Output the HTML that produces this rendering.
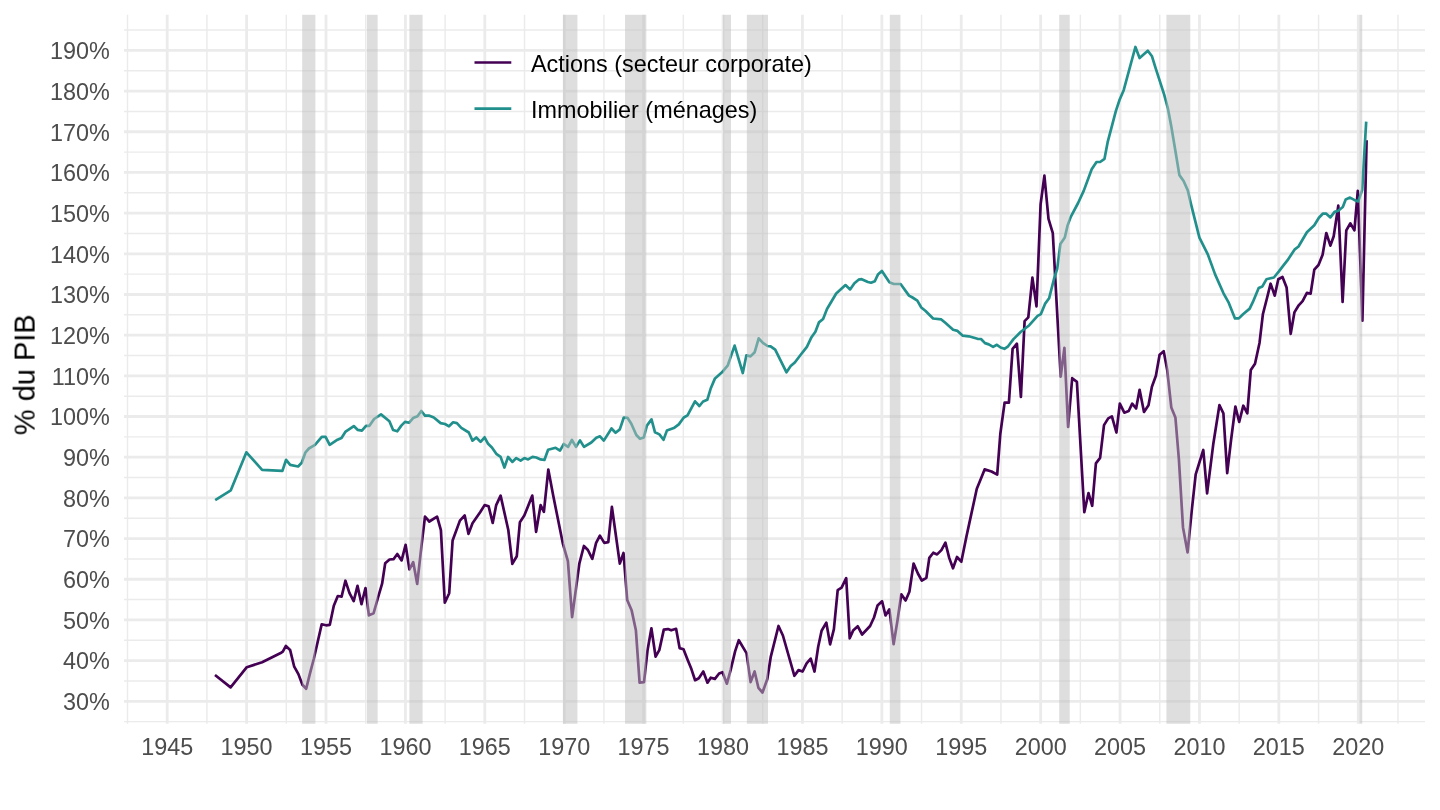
<!DOCTYPE html>
<html><head><meta charset="utf-8"><style>html,body{margin:0;padding:0;background:#fff;width:1440px;height:810px;overflow:hidden}svg{display:block}text{will-change:transform}</style></head>
<body><svg width="1440" height="810" viewBox="0 0 1440 810">
<rect width="1440" height="810" fill="#fff"/>
<path d="M124.0 721.62H1425.0M124.0 680.94H1425.0M124.0 640.26H1425.0M124.0 599.58H1425.0M124.0 558.90H1425.0M124.0 518.22H1425.0M124.0 477.54H1425.0M124.0 436.86H1425.0M124.0 396.18H1425.0M124.0 355.50H1425.0M124.0 314.82H1425.0M124.0 274.14H1425.0M124.0 233.46H1425.0M124.0 192.78H1425.0M124.0 152.10H1425.0M124.0 111.42H1425.0M124.0 70.74H1425.0M124.0 30.06H1425.0M127.50 14.8V723.75M206.91 14.8V723.75M286.31 14.8V723.75M365.72 14.8V723.75M445.12 14.8V723.75M524.52 14.8V723.75M603.93 14.8V723.75M683.34 14.8V723.75M762.74 14.8V723.75M842.14 14.8V723.75M921.55 14.8V723.75M1000.96 14.8V723.75M1080.36 14.8V723.75M1159.77 14.8V723.75M1239.17 14.8V723.75M1318.58 14.8V723.75M1397.98 14.8V723.75" stroke="#EBEBEB" stroke-width="1.45" fill="none"/>
<path d="M124.0 701.28H1425.0M124.0 660.60H1425.0M124.0 619.92H1425.0M124.0 579.24H1425.0M124.0 538.56H1425.0M124.0 497.88H1425.0M124.0 457.20H1425.0M124.0 416.52H1425.0M124.0 375.84H1425.0M124.0 335.16H1425.0M124.0 294.48H1425.0M124.0 253.80H1425.0M124.0 213.12H1425.0M124.0 172.44H1425.0M124.0 131.76H1425.0M124.0 91.08H1425.0M124.0 50.40H1425.0M167.20 14.8V723.75M246.61 14.8V723.75M326.01 14.8V723.75M405.42 14.8V723.75M484.82 14.8V723.75M564.23 14.8V723.75M643.63 14.8V723.75M723.04 14.8V723.75M802.44 14.8V723.75M881.85 14.8V723.75M961.25 14.8V723.75M1040.66 14.8V723.75M1120.06 14.8V723.75M1199.47 14.8V723.75M1278.87 14.8V723.75M1358.28 14.8V723.75" stroke="#EBEBEB" stroke-width="2.8" fill="none"/>
<path d="M215.0 675.0 L230.6 687.4 L246.8 667.2 L262.1 662.3 L280.2 653.3 L282.8 651.6 L285.9 645.9 L290.1 649.9 L294.1 666.3 L298.4 674.1 L302.4 684.8 L306.2 688.8 L309.6 674.9 L313.9 658.5 L321.7 624.3 L326.0 625.3 L329.8 624.8 L333.8 605.8 L337.8 596.0 L341.6 596.6 L345.4 580.7 L349.4 592.8 L353.7 601.1 L357.5 585.9 L361.5 604.1 L365.5 588.0 L368.9 615.3 L373.6 613.2 L377.9 598.0 L382.1 583.7 L385.2 563.3 L389.5 559.5 L393.5 559.2 L397.3 554.0 L401.6 560.4 L405.6 544.8 L409.4 569.5 L413.2 562.1 L417.2 584.0 L421.5 545.7 L425.0 516.6 L429.3 521.5 L437.1 516.6 L440.9 530.1 L444.8 602.7 L449.2 593.2 L452.6 540.5 L459.9 520.6 L464.7 515.4 L468.5 533.9 L472.5 523.2 L480.3 512.0 L484.6 505.1 L488.6 506.3 L492.7 522.9 L496.2 505.1 L500.6 495.6 L508.3 530.0 L512.3 563.8 L516.8 556.2 L519.9 522.2 L524.3 515.6 L532.3 495.6 L536.1 531.8 L540.6 505.1 L543.9 511.8 L548.3 469.6 L553.2 495.6 L562.8 543.3 L567.9 561.1 L572.1 617.1 L579.4 563.3 L583.9 546.0 L587.9 550.0 L592.3 558.9 L596.1 542.9 L599.9 535.6 L604.3 542.9 L608.3 542.2 L611.9 506.9 L616.1 537.0 L619.8 563.6 L623.5 553.0 L627.2 599.9 L631.7 610.6 L635.9 630.3 L639.6 682.7 L644.0 682.2 L647.5 650.6 L651.4 628.3 L655.6 656.7 L659.3 650.1 L663.8 629.6 L668.0 629.1 L671.2 630.3 L676.1 628.8 L679.6 648.1 L683.5 649.3 L687.7 659.9 L691.4 669.1 L695.1 680.2 L698.8 678.2 L703.3 671.5 L707.5 682.7 L710.7 677.7 L714.9 678.9 L719.1 673.5 L722.5 672.2 L726.9 683.7 L730.6 670.1 L735.1 651.4 L738.8 640.2 L746.5 653.1 L750.6 682.1 L754.6 671.5 L758.4 687.8 L762.5 692.5 L767.3 679.0 L770.7 657.2 L778.5 626.0 L782.9 635.5 L794.4 675.8 L798.5 670.1 L802.6 671.5 L806.6 663.3 L810.7 658.6 L814.5 671.5 L818.2 646.8 L821.6 630.7 L826.3 622.6 L830.1 644.3 L833.9 629.1 L837.7 590.2 L841.6 587.7 L846.2 578.1 L849.7 638.3 L853.1 630.6 L857.8 626.3 L862.1 634.5 L870.1 626.0 L874.0 617.5 L877.5 605.6 L882.1 601.3 L885.5 615.5 L889.4 609.3 L893.6 644.2 L897.6 619.8 L901.3 594.4 L905.6 600.5 L909.4 591.7 L913.6 563.5 L917.9 573.5 L921.8 580.5 L926.4 577.8 L929.3 557.9 L933.3 552.7 L937.1 554.4 L941.4 550.1 L945.4 542.7 L949.2 557.9 L953.0 568.3 L957.0 557.0 L961.3 561.7 L966.5 536.3 L970.8 516.4 L976.8 488.8 L981.2 478.0 L984.6 469.4 L991.5 471.5 L997.2 474.6 L1000.3 434.0 L1004.6 402.6 L1008.9 402.6 L1012.6 348.9 L1016.9 343.7 L1020.9 397.0 L1024.6 321.1 L1028.3 317.4 L1032.4 277.6 L1036.5 306.3 L1040.6 204.4 L1044.4 175.7 L1048.5 218.9 L1052.8 233.1 L1056.9 308.1 L1060.7 376.7 L1064.4 347.8 L1068.1 427.0 L1072.2 378.2 L1076.9 381.9 L1084.3 512.2 L1088.5 493.0 L1092.2 505.8 L1095.9 463.3 L1100.1 457.9 L1104.0 425.1 L1108.2 418.4 L1111.9 416.4 L1116.4 432.5 L1119.8 403.6 L1124.3 412.7 L1128.7 411.0 L1132.2 403.6 L1136.1 408.5 L1139.6 389.8 L1144.0 412.0 L1148.5 405.3 L1151.9 386.8 L1155.9 375.7 L1159.6 354.8 L1163.7 351.2 L1167.2 369.9 L1171.3 407.4 L1175.4 417.4 L1178.9 459.5 L1183.0 527.4 L1187.6 552.4 L1191.7 511.1 L1195.7 474.4 L1203.3 450.0 L1207.1 493.4 L1213.4 443.2 L1219.4 405.2 L1223.4 413.3 L1227.2 473.1 L1231.0 440.5 L1235.4 406.5 L1239.2 422.0 L1243.3 405.7 L1247.3 413.3 L1250.8 369.9 L1255.0 363.7 L1259.5 343.0 L1262.9 314.1 L1266.9 298.5 L1270.6 283.7 L1274.7 295.6 L1278.3 279.3 L1282.5 277.0 L1286.6 287.4 L1290.7 333.8 L1294.4 312.4 L1298.7 305.3 L1302.6 301.1 L1306.9 292.8 L1310.6 293.7 L1314.3 269.6 L1318.5 265.0 L1322.6 254.8 L1326.3 233.0 L1330.4 245.6 L1333.7 236.3 L1338.3 205.7 L1342.6 302.0 L1346.3 230.4 L1350.4 223.3 L1354.4 230.4 L1357.8 190.9 L1362.4 320.6 L1366.6 140.2" stroke="#440154" stroke-width="2.7" fill="none" stroke-linejoin="round" stroke-linecap="butt"/>
<path d="M215.2 500.1 L230.8 490.3 L246.4 452.3 L262.1 469.9 L282.4 470.9 L286.1 459.8 L290.2 464.9 L298.1 466.5 L301.7 462.7 L305.5 452.3 L308.9 448.5 L315.0 444.8 L321.8 436.9 L325.6 436.9 L329.7 444.8 L337.5 439.7 L341.5 438.0 L345.6 431.6 L353.8 426.1 L357.8 429.9 L361.9 430.6 L366.0 425.8 L369.4 425.8 L374.1 419.0 L381.0 414.4 L389.4 421.3 L393.1 430.0 L397.3 431.3 L401.3 425.6 L405.0 421.9 L409.0 422.8 L413.1 418.1 L417.5 416.3 L421.3 411.0 L425.0 415.6 L428.8 415.6 L433.8 417.5 L440.6 423.1 L445.0 424.0 L449.0 426.3 L453.1 422.3 L456.9 423.1 L461.3 427.8 L468.8 432.5 L472.5 440.6 L476.3 437.5 L480.6 441.9 L484.6 437.3 L488.1 443.8 L491.9 447.5 L496.3 453.8 L500.6 456.9 L504.4 467.5 L508.1 456.9 L512.3 461.9 L516.3 458.1 L520.6 460.6 L524.4 458.1 L528.1 459.4 L532.5 456.9 L536.3 457.5 L540.6 459.4 L544.4 460.0 L548.1 449.8 L555.6 447.8 L560.0 450.6 L563.8 444.0 L568.1 446.9 L571.9 440.0 L576.0 446.9 L580.0 440.4 L584.0 446.9 L591.3 442.5 L596.3 437.8 L600.0 436.3 L603.8 440.6 L611.5 428.5 L615.6 432.8 L619.8 429.4 L623.8 417.5 L627.5 417.8 L631.3 423.8 L636.3 435.0 L640.0 438.8 L643.8 437.5 L646.9 425.6 L651.5 419.4 L655.0 432.3 L659.4 434.4 L663.5 439.8 L666.9 430.6 L673.8 428.1 L678.8 424.4 L683.8 417.5 L687.5 415.3 L695.0 401.3 L699.4 406.0 L703.1 401.5 L707.3 399.8 L710.6 388.8 L715.0 378.4 L722.0 372.3 L727.8 365.3 L734.6 345.6 L742.8 373.0 L746.4 355.3 L750.5 356.4 L754.7 352.2 L758.7 338.3 L762.9 342.9 L767.5 346.0 L770.6 346.3 L775.2 349.6 L786.5 372.3 L790.7 366.1 L794.8 362.5 L800.7 354.8 L806.9 346.8 L811.5 337.2 L815.4 331.7 L818.9 322.4 L823.1 319.0 L827.0 309.0 L836.2 293.5 L845.5 285.1 L850.1 289.4 L854.4 283.2 L858.6 279.7 L861.7 279.2 L867.9 282.0 L871.0 282.7 L874.8 281.2 L877.9 274.6 L881.9 271.0 L889.4 282.3 L893.8 284.0 L900.6 284.0 L909.0 295.6 L912.5 297.5 L917.3 300.6 L921.3 307.5 L925.6 311.0 L933.1 318.5 L941.3 319.4 L945.6 323.1 L953.1 329.8 L957.5 330.9 L962.5 335.6 L968.8 336.3 L977.5 338.8 L981.0 339.0 L985.0 343.1 L988.8 344.4 L993.1 346.9 L996.9 344.8 L1000.6 347.5 L1004.4 348.8 L1008.1 346.3 L1013.5 339.1 L1020.9 331.7 L1029.3 325.2 L1037.6 315.9 L1040.9 314.1 L1045.0 303.9 L1049.1 298.3 L1054.1 278.5 L1057.2 268.8 L1060.4 243.9 L1064.8 237.5 L1067.6 225.4 L1070.9 216.6 L1078.1 203.0 L1083.7 190.9 L1091.7 169.3 L1096.5 162.0 L1100.1 162.0 L1104.5 158.8 L1107.6 142.4 L1115.9 110.9 L1119.6 99.8 L1123.7 90.2 L1135.4 47.0 L1139.6 58.1 L1147.8 50.7 L1152.0 56.3 L1155.7 68.3 L1164.1 94.3 L1167.8 108.1 L1171.5 127.6 L1175.2 149.8 L1179.4 175.1 L1183.6 181.0 L1187.8 190.4 L1191.0 204.1 L1199.4 237.7 L1207.8 254.4 L1215.1 274.4 L1223.5 293.3 L1228.7 302.7 L1235.0 318.4 L1238.8 318.4 L1243.0 314.2 L1249.7 308.6 L1252.8 302.2 L1258.7 288.1 L1262.4 286.4 L1266.4 279.3 L1273.9 277.5 L1278.7 271.6 L1282.5 266.7 L1287.4 260.4 L1294.8 249.3 L1298.5 246.5 L1306.9 232.2 L1314.3 225.2 L1318.9 217.8 L1323.0 213.5 L1326.3 213.7 L1330.4 217.4 L1334.6 211.9 L1338.3 210.7 L1342.8 207.0 L1345.7 199.4 L1350.0 197.6 L1354.3 199.9 L1358.2 201.4 L1362.2 190.0 L1366.2 121.6" stroke="#21908C" stroke-width="2.7" fill="none" stroke-linejoin="round" stroke-linecap="butt"/>
<rect x="302.19" y="14.8" width="13.18" height="708.95" fill="#BEBEBE" fill-opacity="0.5"/>
<rect x="366.99" y="14.8" width="10.64" height="708.95" fill="#BEBEBE" fill-opacity="0.5"/>
<rect x="409.39" y="14.8" width="13.18" height="708.95" fill="#BEBEBE" fill-opacity="0.5"/>
<rect x="562.96" y="14.8" width="14.45" height="708.95" fill="#BEBEBE" fill-opacity="0.5"/>
<rect x="625.05" y="14.8" width="21.28" height="708.95" fill="#BEBEBE" fill-opacity="0.5"/>
<rect x="723.04" y="14.8" width="7.94" height="708.95" fill="#BEBEBE" fill-opacity="0.5"/>
<rect x="746.86" y="14.8" width="21.12" height="708.95" fill="#BEBEBE" fill-opacity="0.5"/>
<rect x="889.79" y="14.8" width="10.64" height="708.95" fill="#BEBEBE" fill-opacity="0.5"/>
<rect x="1059.24" y="14.8" width="10.48" height="708.95" fill="#BEBEBE" fill-opacity="0.5"/>
<rect x="1166.44" y="14.8" width="23.82" height="708.95" fill="#BEBEBE" fill-opacity="0.5"/>
<rect x="1359.55" y="14.8" width="2.70" height="708.95" fill="#BEBEBE" fill-opacity="0.5"/>
<text x="109.8" y="710.06" text-anchor="end" style="font-family:'Liberation Sans',sans-serif;font-size:23.4px" fill="#4D4D4D">30%</text>
<text x="109.8" y="669.38" text-anchor="end" style="font-family:'Liberation Sans',sans-serif;font-size:23.4px" fill="#4D4D4D">40%</text>
<text x="109.8" y="628.70" text-anchor="end" style="font-family:'Liberation Sans',sans-serif;font-size:23.4px" fill="#4D4D4D">50%</text>
<text x="109.8" y="588.02" text-anchor="end" style="font-family:'Liberation Sans',sans-serif;font-size:23.4px" fill="#4D4D4D">60%</text>
<text x="109.8" y="547.34" text-anchor="end" style="font-family:'Liberation Sans',sans-serif;font-size:23.4px" fill="#4D4D4D">70%</text>
<text x="109.8" y="506.66" text-anchor="end" style="font-family:'Liberation Sans',sans-serif;font-size:23.4px" fill="#4D4D4D">80%</text>
<text x="109.8" y="465.98" text-anchor="end" style="font-family:'Liberation Sans',sans-serif;font-size:23.4px" fill="#4D4D4D">90%</text>
<text x="109.8" y="425.30" text-anchor="end" style="font-family:'Liberation Sans',sans-serif;font-size:23.4px" fill="#4D4D4D">100%</text>
<text x="109.8" y="384.62" text-anchor="end" style="font-family:'Liberation Sans',sans-serif;font-size:23.4px" fill="#4D4D4D">110%</text>
<text x="109.8" y="343.94" text-anchor="end" style="font-family:'Liberation Sans',sans-serif;font-size:23.4px" fill="#4D4D4D">120%</text>
<text x="109.8" y="303.26" text-anchor="end" style="font-family:'Liberation Sans',sans-serif;font-size:23.4px" fill="#4D4D4D">130%</text>
<text x="109.8" y="262.58" text-anchor="end" style="font-family:'Liberation Sans',sans-serif;font-size:23.4px" fill="#4D4D4D">140%</text>
<text x="109.8" y="221.90" text-anchor="end" style="font-family:'Liberation Sans',sans-serif;font-size:23.4px" fill="#4D4D4D">150%</text>
<text x="109.8" y="181.22" text-anchor="end" style="font-family:'Liberation Sans',sans-serif;font-size:23.4px" fill="#4D4D4D">160%</text>
<text x="109.8" y="140.54" text-anchor="end" style="font-family:'Liberation Sans',sans-serif;font-size:23.4px" fill="#4D4D4D">170%</text>
<text x="109.8" y="99.86" text-anchor="end" style="font-family:'Liberation Sans',sans-serif;font-size:23.4px" fill="#4D4D4D">180%</text>
<text x="109.8" y="59.18" text-anchor="end" style="font-family:'Liberation Sans',sans-serif;font-size:23.4px" fill="#4D4D4D">190%</text>
<text x="167.20" y="755.4" text-anchor="middle" style="font-family:'Liberation Sans',sans-serif;font-size:23.4px" fill="#4D4D4D">1945</text>
<text x="246.61" y="755.4" text-anchor="middle" style="font-family:'Liberation Sans',sans-serif;font-size:23.4px" fill="#4D4D4D">1950</text>
<text x="326.01" y="755.4" text-anchor="middle" style="font-family:'Liberation Sans',sans-serif;font-size:23.4px" fill="#4D4D4D">1955</text>
<text x="405.42" y="755.4" text-anchor="middle" style="font-family:'Liberation Sans',sans-serif;font-size:23.4px" fill="#4D4D4D">1960</text>
<text x="484.82" y="755.4" text-anchor="middle" style="font-family:'Liberation Sans',sans-serif;font-size:23.4px" fill="#4D4D4D">1965</text>
<text x="564.23" y="755.4" text-anchor="middle" style="font-family:'Liberation Sans',sans-serif;font-size:23.4px" fill="#4D4D4D">1970</text>
<text x="643.63" y="755.4" text-anchor="middle" style="font-family:'Liberation Sans',sans-serif;font-size:23.4px" fill="#4D4D4D">1975</text>
<text x="723.04" y="755.4" text-anchor="middle" style="font-family:'Liberation Sans',sans-serif;font-size:23.4px" fill="#4D4D4D">1980</text>
<text x="802.44" y="755.4" text-anchor="middle" style="font-family:'Liberation Sans',sans-serif;font-size:23.4px" fill="#4D4D4D">1985</text>
<text x="881.85" y="755.4" text-anchor="middle" style="font-family:'Liberation Sans',sans-serif;font-size:23.4px" fill="#4D4D4D">1990</text>
<text x="961.25" y="755.4" text-anchor="middle" style="font-family:'Liberation Sans',sans-serif;font-size:23.4px" fill="#4D4D4D">1995</text>
<text x="1040.66" y="755.4" text-anchor="middle" style="font-family:'Liberation Sans',sans-serif;font-size:23.4px" fill="#4D4D4D">2000</text>
<text x="1120.06" y="755.4" text-anchor="middle" style="font-family:'Liberation Sans',sans-serif;font-size:23.4px" fill="#4D4D4D">2005</text>
<text x="1199.47" y="755.4" text-anchor="middle" style="font-family:'Liberation Sans',sans-serif;font-size:23.4px" fill="#4D4D4D">2010</text>
<text x="1278.87" y="755.4" text-anchor="middle" style="font-family:'Liberation Sans',sans-serif;font-size:23.4px" fill="#4D4D4D">2015</text>
<text x="1358.28" y="755.4" text-anchor="middle" style="font-family:'Liberation Sans',sans-serif;font-size:23.4px" fill="#4D4D4D">2020</text>
<text transform="translate(34.6 374.7) rotate(-90)" text-anchor="middle" style="font-family:'Liberation Sans',sans-serif;font-size:29.0px" fill="#000">% du PIB</text>
<path d="M474.5 62.5H511.3" stroke="#440154" stroke-width="2.7"/>
<path d="M474.5 108.6H511.3" stroke="#21908C" stroke-width="2.7"/>
<text x="531" y="71.75" style="font-family:'Liberation Sans',sans-serif;font-size:23.4px" fill="#000">Actions (secteur corporate)</text>
<text x="531" y="118.4" style="font-family:'Liberation Sans',sans-serif;font-size:23.4px" fill="#000">Immobilier (ménages)</text>
</svg></body></html>
